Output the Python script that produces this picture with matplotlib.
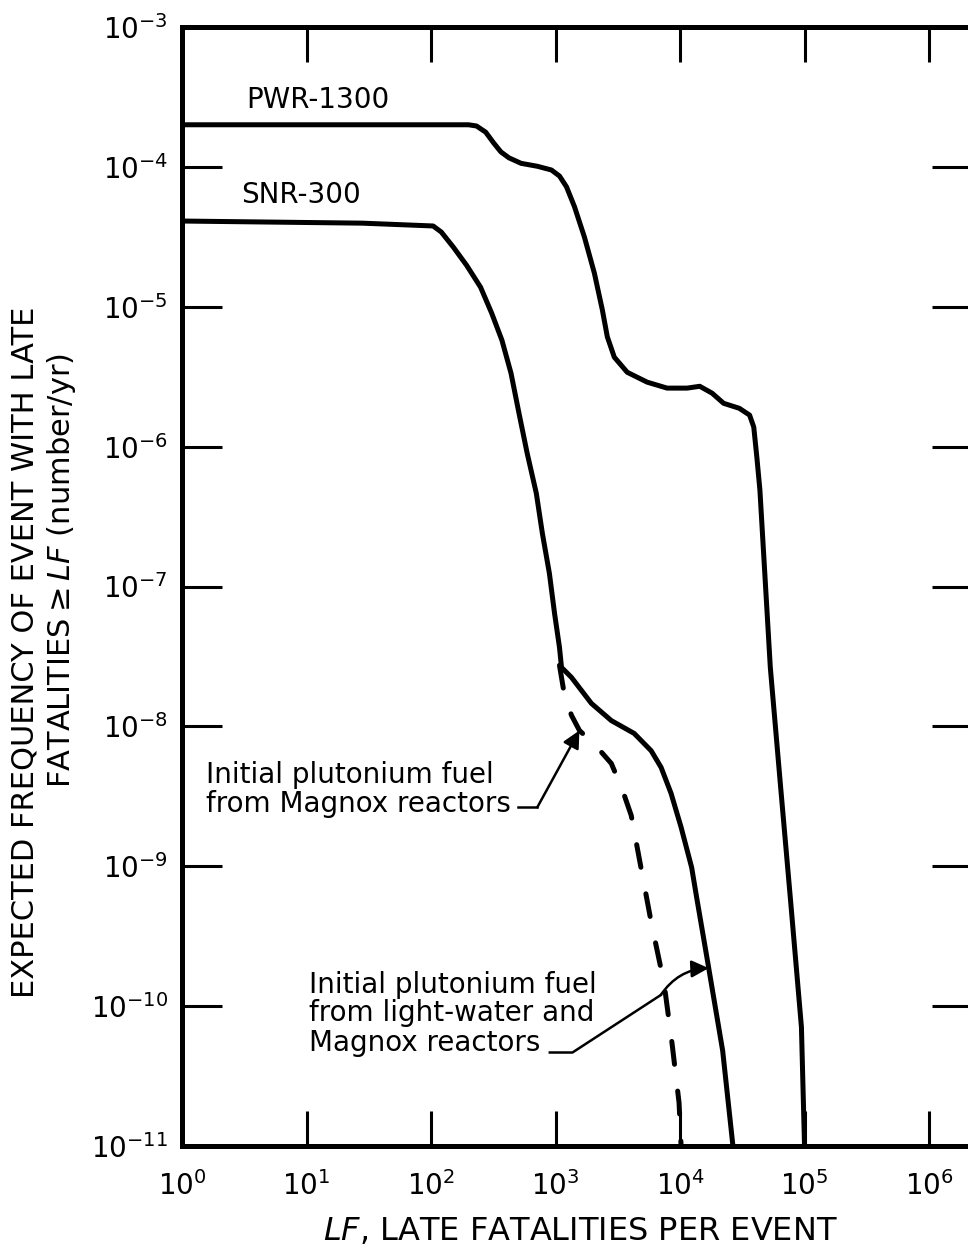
import numpy as np
import matplotlib
matplotlib.use("Agg")
import matplotlib.pyplot as plt
from matplotlib.ticker import NullLocator

plt.rcParams["font.family"] = ["DejaVu Sans"]
plt.rcParams["mathtext.fontset"] = "dejavusans"

# Complementary cumulative frequency of late fatalities (events/yr)
pwr_lf = [1, 200, 232, 275, 319, 364, 423, 529, 714, 927, 1076, 1225, 1419,
          1706, 2051, 2377, 2606, 2965, 3767, 5445, 7870, 1.14e4, 1.44e4,
          1.81e4, 2.24e4, 2.99e4, 3.62e4, 3.91e4, 4.14e4, 4.38e4, 5.31e4,
          6.43e4, 7.79e4, 9.44e4, 1.0e5]
pwr_freq = [2.0e-4, 2.0e-4, 1.96e-4, 1.77e-4, 1.48e-4, 1.28e-4, 1.16e-4,
            1.06e-4, 1.01e-4, 9.5e-5, 8.6e-5, 7.2e-5, 5.2e-5, 3.15e-5,
            1.74e-5, 9.5e-6, 6.1e-6, 4.36e-6, 3.40e-6, 2.89e-6, 2.62e-6,
            2.62e-6, 2.70e-6, 2.41e-6, 2.04e-6, 1.88e-6, 1.68e-6, 1.38e-6,
            8.4e-7, 4.9e-7, 2.64e-8, 3.66e-9, 5.2e-10, 7.1e-11, 1e-11]

snr_lf = [1, 27.9, 104, 121, 151, 193, 250, 307, 371, 439, 509, 592, 701,
          784, 893, 982, 1076, 1117, 1343, 1941, 2806, 4285, 5861, 7047,
          8472, 1.02e4, 1.24e4, 1.36e4, 1.68e4, 2.20e4, 2.66e4]
snr_freq = [4.1e-5, 3.96e-5, 3.78e-5, 3.42e-5, 2.67e-5, 1.98e-5, 1.38e-5,
            9.0e-6, 5.77e-6, 3.35e-6, 1.73e-6, 8.97e-7, 4.64e-7, 2.40e-7,
            1.24e-7, 6.43e-8, 3.67e-8, 2.64e-8, 2.24e-8, 1.46e-8, 1.10e-8,
            8.9e-9, 6.7e-9, 5.09e-9, 3.32e-9, 1.90e-9, 9.8e-10, 5.98e-10,
            1.99e-10, 4.8e-11, 1e-11]

# SNR-300 variant with Magnox-only initial plutonium fuel
magnox_lf = [1076, 1180, 1343, 1556, 2128, 2806, 3436, 4055, 4875, 5861,
             7448, 8630, 9820, 1.02e4]
magnox_freq = [2.73e-8, 1.67e-8, 1.20e-8, 9.35e-9, 7.19e-9, 5.43e-9,
               3.54e-9, 2.31e-9, 9.6e-10, 4.0e-10, 1.45e-10, 5.4e-11,
               2.04e-11, 1e-11]

x_ticks = [1e0, 1e1, 1e2, 1e3, 1e4, 1e5, 1e6]
y_ticks = [1e-11, 1e-10, 1e-9, 1e-8, 1e-7, 1e-6, 1e-5, 1e-4, 1e-3]


def on_curve(xs, ys, x):
    """Frequency on a curve at a given LF (log-log interpolation)."""
    return 10 ** np.interp(np.log10(x), np.log10(xs), np.log10(ys))


fig = plt.figure(figsize=(9.68, 12.49), dpi=100)
ax = fig.add_axes([182 / 968, (1249 - 1146) / 1249, 790 / 968, 1119 / 1249])
ax.set_xscale("log")
ax.set_yscale("log")
ax.set_xlim(1, 10 ** 6.345)
ax.set_ylim(1e-11, 1e-3)

lw = 3.6
ax.plot(pwr_lf, pwr_freq, color="black", lw=lw, solid_capstyle="butt",
        solid_joinstyle="round")
ax.plot(snr_lf, snr_freq, color="black", lw=lw, solid_capstyle="butt",
        solid_joinstyle="round")
dash, = ax.plot(magnox_lf, magnox_freq, color="black", lw=lw,
                dash_capstyle="round")
dash.set_dashes([4.6, 5.4])

ax.set_xticks(x_ticks)
ax.set_yticks(y_ticks)
ax.xaxis.set_minor_locator(NullLocator())
ax.yaxis.set_minor_locator(NullLocator())
ax.tick_params(axis="both", which="major", direction="in", width=2.2,
               color="black", labelsize=20, top=True, right=True)
ax.tick_params(axis="x", length=25, pad=18)
ax.tick_params(axis="y", length=29, pad=10)
for sp in ax.spines.values():
    sp.set_linewidth(3.6)

# Curve labels
ax.text(3.28, 10 ** -3.579, "PWR-1300", fontsize=20, ha="left", va="baseline")
ax.text(3.0, 10 ** -4.259, "SNR-300", fontsize=20, ha="left", va="baseline")

# Magnox annotation
ax.text(1.57, 10 ** -8.408, "Initial plutonium fuel", fontsize=20,
        ha="left", va="baseline")
ax.text(1.57, 10 ** -8.615, "from Magnox reactors", fontsize=20,
        ha="left", va="baseline")
lead_y = 2.64e-9
ax.plot([500, 714], [lead_y, lead_y], color="black", lw=1.8)
tip_x = 1556
ax.annotate("", xy=(tip_x, on_curve(magnox_lf, magnox_freq, tip_x)),
            xytext=(714, lead_y),
            arrowprops=dict(arrowstyle="-|>", color="black", lw=1.8,
                            mutation_scale=26, shrinkA=0, shrinkB=0))

# Light-water + Magnox annotation
for txt, ly in [("Initial plutonium fuel", -9.903),
                ("from light-water and", -10.103),
                ("Magnox reactors", -10.318)]:
    ax.text(10.5, 10 ** ly, txt, fontsize=20, ha="left", va="baseline")
lead2_y = 4.66e-11
ax.plot([900, 1368, 7000], [lead2_y, lead2_y, 1.2e-10], color="black", lw=1.8)
tip2_x = 1.7e4
ax.annotate("", xy=(tip2_x, on_curve(snr_lf, snr_freq, tip2_x)),
            xytext=(7000, 1.2e-10),
            arrowprops=dict(arrowstyle="-|>", color="black", lw=1.8,
                            mutation_scale=26, shrinkA=0, shrinkB=0,
                            connectionstyle="arc3,rad=-0.25"))

# Axis titles (rotated lines anchored at their baselines)
fig.text(34 / 968, 1 - 652 / 1249, "EXPECTED FREQUENCY OF EVENT WITH LATE",
         rotation=90, rotation_mode="anchor", fontsize=22,
         ha="center", va="baseline")
fig.text(70 / 968, 1 - 571 / 1249,
         r"FATALITIES$\geq\mathit{LF}$ (number/yr)",
         rotation=90, rotation_mode="anchor", fontsize=22,
         ha="center", va="baseline")
fig.text(580 / 968, 1 - 1232 / 1249, r"$\mathit{LF}$, LATE FATALITIES PER EVENT",
         fontsize=23, ha="center", va="center")

fig.savefig("out.png", dpi=100)
